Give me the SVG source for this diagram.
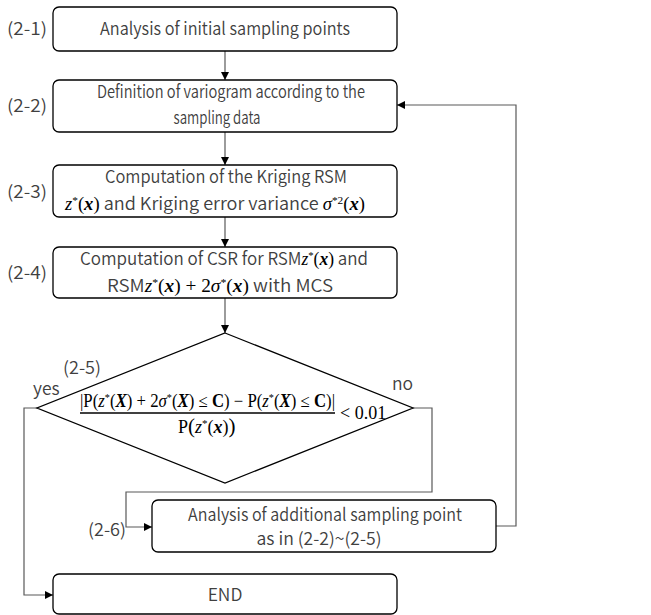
<svg xmlns="http://www.w3.org/2000/svg" width="651" height="615" viewBox="0 0 651 615">
<style>
.box{fill:#fff;stroke:#000;stroke-width:1.3}
.t{font-family:"Noto Sans CJK JP","Noto Sans",sans-serif;font-weight:350;font-size:17.5px;fill:#404040}
.c{text-anchor:middle}
.con{fill:none;stroke:#595959;stroke-width:1.2}
.m{font-family:"Liberation Serif",serif;font-size:18px;fill:#000;font-weight:normal}
.mi{font-style:italic}
.mb{font-weight:bold;font-style:italic}
.sup{font-size:11px;baseline-shift:6px}
</style>
<defs>
<marker id="ah" viewBox="0 0 10 10" refX="10" refY="5" markerWidth="8" markerHeight="8" markerUnits="userSpaceOnUse" orient="auto">
<path d="M0,0 L10,5 L0,10 z" fill="#000"/>
</marker>
</defs>
<rect width="651" height="615" fill="#fff"/>

<g id="connectors">
<line class="con" x1="225" y1="51" x2="225" y2="80" marker-end="url(#ah)"/>
<line class="con" x1="225" y1="132" x2="225" y2="165" marker-end="url(#ah)"/>
<line class="con" x1="225" y1="217" x2="225" y2="247" marker-end="url(#ah)"/>
<line class="con" x1="225" y1="298" x2="225" y2="333" marker-end="url(#ah)"/>
<polyline class="con" points="37,408 24,408 24,595 53,595" marker-end="url(#ah)"/>
<polyline class="con" points="413,408 432,408 432,492 126,492 126,527 152,527" marker-end="url(#ah)"/>
<polyline class="con" points="496,526 516,526 516,105 397,105" marker-end="url(#ah)"/>
</g>

<g id="n1">
<rect class="box" x="53" y="7" width="344" height="44" rx="6"/>
<text class="t c" x="225" y="35" textLength="250" lengthAdjust="spacingAndGlyphs">Analysis of initial sampling points</text>
<text class="t" x="7" y="35" textLength="40" lengthAdjust="spacingAndGlyphs">(2-1)</text>
</g>

<g id="n2">
<rect class="box" x="53" y="80" width="344" height="52" rx="6"/>
<text class="t c" x="231" y="98" textLength="268" lengthAdjust="spacingAndGlyphs">Definition of variogram according to the</text>
<text class="t c" x="217" y="124" textLength="87" lengthAdjust="spacingAndGlyphs">sampling data</text>
<text class="t" x="7" y="112" textLength="40" lengthAdjust="spacingAndGlyphs">(2-2)</text>
</g>

<g id="n3">
<rect class="box" x="53" y="165" width="344" height="52" rx="6"/>
<text class="t c" x="226" y="183" textLength="242" lengthAdjust="spacingAndGlyphs">Computation of the Kriging RSM</text>
<text class="t" x="65" y="210" textLength="300" lengthAdjust="spacingAndGlyphs"><tspan class="m mi">z</tspan><tspan class="m sup">*</tspan><tspan class="m">(</tspan><tspan class="m mb">x</tspan><tspan class="m">)</tspan> and Kriging error variance <tspan class="m mi">σ</tspan><tspan class="m sup">*2</tspan><tspan class="m">(</tspan><tspan class="m mb">x</tspan><tspan class="m">)</tspan></text>
<text class="t" x="7" y="198" textLength="40" lengthAdjust="spacingAndGlyphs">(2-3)</text>
</g>

<g id="n4">
<rect class="box" x="53" y="247" width="344" height="51" rx="6"/>
<text class="t" x="80" y="265" textLength="288" lengthAdjust="spacingAndGlyphs">Computation of CSR for RSM<tspan class="m mi">z</tspan><tspan class="m sup">*</tspan><tspan class="m">(</tspan><tspan class="m mb">x</tspan><tspan class="m">)</tspan> and</text>
<text class="t" x="107" y="292" textLength="226" lengthAdjust="spacingAndGlyphs">RSM<tspan class="m mi">z</tspan><tspan class="m sup">*</tspan><tspan class="m">(</tspan><tspan class="m mb">x</tspan><tspan class="m">) + 2</tspan><tspan class="m mi">σ</tspan><tspan class="m sup">*</tspan><tspan class="m">(</tspan><tspan class="m mb">x</tspan><tspan class="m">)</tspan> with MCS</text>
<text class="t" x="7" y="279" textLength="40" lengthAdjust="spacingAndGlyphs">(2-4)</text>
</g>

<g id="n5">
<polygon points="225,333 413,408 225,483 37,408" fill="#fff" stroke="#000" stroke-width="1.3"/>
<text class="t" x="63" y="374" textLength="38" lengthAdjust="spacingAndGlyphs">(2-5)</text>
<text class="t" x="33" y="395">yes</text>
<text class="t" x="392" y="390">no</text>
<text class="m" x="80" y="407" textLength="255" lengthAdjust="spacingAndGlyphs">|P(<tspan class="mi">z</tspan><tspan class="sup">*</tspan>(<tspan class="mb">X</tspan>) + 2<tspan class="mi">σ</tspan><tspan class="sup">*</tspan>(<tspan class="mb">X</tspan>) ≤ <tspan font-weight="bold">C</tspan>) − P(<tspan class="mi">z</tspan><tspan class="sup">*</tspan>(<tspan class="mb">X</tspan>) ≤ <tspan font-weight="bold">C</tspan>)|</text>
<line x1="80" y1="413" x2="335" y2="413" stroke="#000" stroke-width="1.5"/>
<text class="m" x="340" y="419">&lt; 0.01</text>
<text class="m" x="178" y="433">P<tspan font-size="21">(</tspan><tspan class="mi">z</tspan><tspan class="sup">*</tspan>(<tspan class="mb">x</tspan>)<tspan font-size="21">)</tspan></text>
</g>

<g id="n6">
<rect class="box" x="152" y="500" width="344" height="52" rx="6"/>
<text class="t c" x="325" y="521" textLength="274" lengthAdjust="spacingAndGlyphs">Analysis of additional sampling point</text>
<text class="t c" x="319" y="545" textLength="125" lengthAdjust="spacingAndGlyphs">as in (2-2)~(2-5)</text>
<text class="t" x="88" y="536" textLength="38" lengthAdjust="spacingAndGlyphs">(2-6)</text>
</g>

<g id="n7">
<rect class="box" x="53" y="574" width="344" height="40" rx="6"/>
<text class="t c" x="225" y="601">END</text>
</g>
</svg>
